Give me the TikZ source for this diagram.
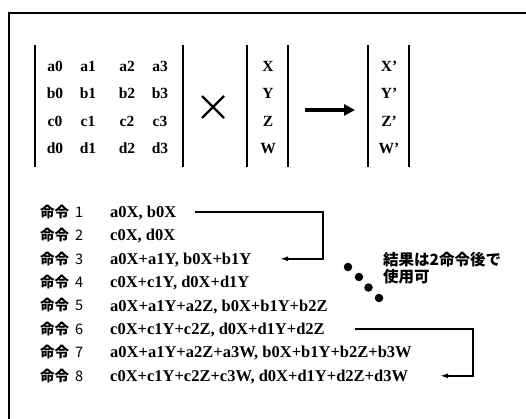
\documentclass[tikz,border=0pt]{standalone}
\usepackage{fontspec}
\setmainfont{Liberation Serif}
\newfontfamily\jp{Noto Sans CJK JP}
\usetikzlibrary{arrows.meta}
\newcommand{\meirei}[1]{命令\hspace{6pt}{\mdseries #1}}
\begin{document}
\begin{tikzpicture}[x=1pt,y=-1pt,
  ent/.style={font=\fontsize{15.5}{18}\selectfont\bfseries, inner sep=0pt, text height=10.5pt, text depth=0pt, anchor=center},
  bar/.style={line width=2pt},
  lab/.style={font=\jp\fontsize{14.5}{17}\selectfont\bfseries, inner sep=0pt, anchor=west, text height=10.5pt, text depth=0pt},
  expr/.style={font=\fontsize{16.5}{18}\selectfont\bfseries, inner sep=0pt, anchor=west, text height=11pt, text depth=0pt},
  note/.style={font=\jp\fontsize{15.5}{17}\selectfont\bfseries, inner sep=0pt, anchor=west, align=left},
  conn/.style={line width=1.5pt, -{Latex[length=8pt,width=5pt]}},
  dot/.style={circle, fill=black, inner sep=0pt, minimum size=8.5pt}]
\useasboundingbox (0,0) rectangle (526,419);
% frame (top and left sides)
\draw[line width=2pt] (526,13) -- (9,13) -- (9,419);
% matrix
\foreach \r/\y in {a/66,b/93,c/121,d/148}{
  \foreach \c/\x in {0/55,1/88,2/127,3/160}{
    \node[ent] (m\r\c) at (\x,\y) {\r\c};
  }
}
\draw[bar] (35,45) -- (35,167);
\draw[bar] (183,45) -- (183,167);
% times sign
\coordinate (tc) at (213,107);
\draw[line width=2.4pt] (202,96) -- (224,118);
\draw[line width=2.4pt] (202,118) -- (224,96);
% vector
\node[ent] (vx) at (268,66) {X};
\node[ent] (vy) at (268,93) {Y};
\node[ent] (vz) at (268,121) {Z};
\node[ent] (vw) at (268,148) {W};
\draw[bar] (247,45) -- (247,167);
\draw[bar] (288,45) -- (288,167);
% arrow
\coordinate (ta) at (305,110);
\coordinate (tb) at (355,110);
\draw[line width=4pt, -{Triangle[length=11pt,width=11pt]}] (ta) -- (tb);
% result vector
\node[ent] (rx) at (389,66) {X'};
\node[ent] (ry) at (389,93) {Y'};
\node[ent] (rz) at (389,121) {Z'};
\node[ent] (rw) at (389,148) {W'};
\draw[bar] (368,45) -- (368,167);
\draw[bar] (409,45) -- (409,167);
% instructions
\node[lab] (l1) at (40,212.0) {\meirei{1}};
\node[lab] (l2) at (40,235.4) {\meirei{2}};
\node[lab] (l3) at (40,258.8) {\meirei{3}};
\node[lab] (l4) at (40,282.2) {\meirei{4}};
\node[lab] (l5) at (40,305.6) {\meirei{5}};
\node[lab] (l6) at (40,329.0) {\meirei{6}};
\node[lab] (l7) at (40,352.4) {\meirei{7}};
\node[lab] (l8) at (40,375.8) {\meirei{8}};
\node[expr] (e1) at (110,212.0) {a0X, b0X};
\node[expr] (e2) at (110,235.4) {c0X, d0X};
\node[expr] (e3) at (110,258.8) {a0X+a1Y, b0X+b1Y};
\node[expr] (e4) at (110,282.2) {c0X+c1Y, d0X+d1Y};
\node[expr] (e5) at (110,305.6) {a0X+a1Y+a2Z, b0X+b1Y+b2Z};
\node[expr] (e6) at (110,329.0) {c0X+c1Y+c2Z, d0X+d1Y+d2Z};
\node[expr] (e7) at (110,352.4) {a0X+a1Y+a2Z+a3W, b0X+b1Y+b2Z+b3W};
\node[expr] (e8) at (110,375.8) {c0X+c1Y+c2Z+c3W, d0X+d1Y+d2Z+d3W};
% connectors
\coordinate (s1) at (195,212.0);
\coordinate (c1) at (323,212.0);
\coordinate (t1) at (280,258.8);
\draw[conn] (s1) -- (c1) |- (t1);
\coordinate (s2) at (355,329.0);
\coordinate (c2) at (473,329.0);
\coordinate (t2) at (440,375.8);
\draw[conn] (s2) -- (c2) |- (t2);
% dots
\node[dot] (d1) at (348,267) {};
\node[dot] (d2) at (359,277) {};
\node[dot] (d3) at (368.5,287.5) {};
\node[dot] (d4) at (379,298) {};
% note
\node[note] (n1) at (383,268) {結果は2命令後で\\使用可};
\end{tikzpicture}
\end{document}
